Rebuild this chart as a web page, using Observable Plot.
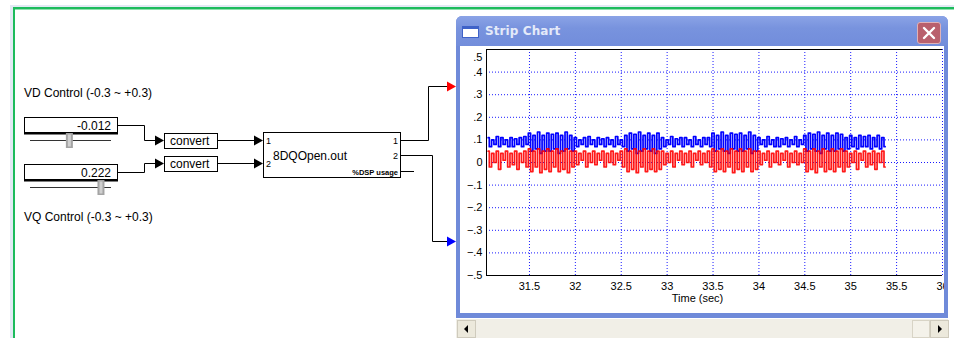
<!DOCTYPE html>
<html>
<head>
<meta charset="utf-8">
<script src="https://cdn.jsdelivr.net/npm/d3@7"></script>
<script src="https://cdn.jsdelivr.net/npm/@observablehq/plot@0.6"></script>
<style>
  html, body { margin: 0; padding: 0; background: #fff; width: 954px; height: 338px; overflow: hidden; }
  #stage { position: relative; width: 954px; height: 338px; font-family: "Liberation Sans", Arial, sans-serif; }
  #diagram { position: absolute; left: 0; top: 0; }
  #win { position: absolute; left: 456px; top: 16px; width: 492px; height: 302px; background: #6f8ad9; border-radius: 6px 6px 0 0; }
  #titlebar { position: absolute; left: 0; top: 0; width: 492px; height: 30px; border-radius: 6px 6px 0 0;
    background: linear-gradient(#8aa3e6, #7893de 40%, #728ddb); }
  #icon { position: absolute; left: 6px; top: 10px; width: 17px; height: 12px; background: #fff; border: 1px solid #3f62c8; border-top: 3px solid #3f62c8; box-sizing: border-box; }
  #title { position: absolute; left: 29px; top: 8px; font: bold 12px "DejaVu Sans", Verdana, sans-serif; color: #e4eaf9; letter-spacing: 0.1px; }
  #close { position: absolute; left: 461px; top: 6px; width: 24px; height: 22px; box-sizing: border-box; border: 1px solid #dfb2b8; border-radius: 3px; background: #b9606d; }
  #plotbox { position: absolute; left: 4px; top: 30px; width: 484px; height: 267px; background: #fff; overflow: hidden; }
  #plotbox svg { max-width: none !important; }
  #scroll { position: absolute; left: 456px; top: 319px; width: 492px; height: 19px; background: #f1efe7; }
  .sbtn { position: absolute; top: 1px; width: 19px; height: 18px; box-sizing: border-box; background: #ece9dc; border: 1px solid #cfcbbd; }
</style>
</head>
<body>
<div id="stage">
  <svg id="diagram" width="954" height="338"></svg>
  <div id="win">
    <div id="titlebar">
      <div id="icon"></div>
      <div id="title">Strip Chart</div>
      <div id="close">
        <svg width="22" height="20" style="position:absolute;left:0;top:0">
          <path d="M6,5 L16,15 M16,5 L6,15" stroke="#fff" stroke-width="2.4" stroke-linecap="round"/>
        </svg>
      </div>
    </div>
    <div id="plotbox"></div>
  </div>
  <div id="scroll">
    <div class="sbtn" style="left:1px"><svg width="17" height="16"><path d="M6,8 L10,4 L10,12 Z" fill="#000"/></svg></div>
    <div class="sbtn" style="left:456px;width:18px;border-color:#d8d4c6;background:#f4f2ea"></div>
    <div class="sbtn" style="left:474px"><svg width="17" height="16"><path d="M11,8 L7,4 L7,12 Z" fill="#000"/></svg></div>
  </div>
</div>
<script>
// ---------------- data ----------------
const controlLabels = ["VD Control (-0.3 ~ +0.3)", "VQ Control (-0.3 ~ +0.3)"];
const controlValues = [-0.012, 0.222];
const controlRange = [-0.3, 0.3];
const converterLabels = ["convert", "convert"];
const blockName = "8DQOpen.out";
const blockOutputs = ["1", "2", "%DSP usage"];
const seriesColors = ["#ff0000", "#0000ff"];

const timeDomain = [31.032, 36.0];
const xTicks = [31.5, 32, 32.5, 33, 33.5, 34, 34.5, 35, 35.5, 36];
const yTicks = [0.4, 0.3, 0.2, 0.1, 0, -0.1, -0.2, -0.3, -0.4, -0.5];
const yTopTick = [0.5];
const yGrid = [0.4, 0.3, 0.2, 0.1, 0, -0.1, -0.2, -0.3, -0.4];
const xLabel = "Time (sec)";

const startTime = 31.05, sampleStep = 0.025;

// output 2 (blue)
const blueSignal = [
  .11,.07,.10,.08,.115,.07,.11,.08,.10,.07,.11,.07,.105,.08,.11,.07,.115,.08,
  .13,.05,.12,.06,.135,.04,.12,.05,.13,.05,.125,.06,.13,.04,.12,.05,.135,.06,.12,.05,
  .11,.07,.10,.08,.11,.07,.115,.08,.10,.07,.11,.08,.105,.07,.11,.08,.10,.07,.115,.08,.10,.07,
  .12,.05,.13,.06,.125,.04,.135,.05,.12,.06,.13,.05,.12,.04,.13,.06,
  .11,.07,.10,.08,.115,.07,.105,.08,.11,.07,.11,.08,.10,.07,.115,.08,.10,.07,.11,.08,.11,.07,
  .13,.05,.12,.06,.135,.05,.12,.04,.13,.06,.125,.05,.13,.05,.12,.06,.135,.04,.12,.05,
  .11,.08,.10,.07,.115,.08,.10,.07,.11,.07,.105,.08,.11,.07,.10,.08,.115,.07,.10,.08,
  .12,.05,.13,.06,.125,.05,.135,.04,.12,.06,.13,.05,.12,.05,.13,.06,.125,.05,
  .11,.06,.12,.07,.11,.06,.12,.07,.115,.07,.12,.06,.11,.07,.12,.06,.11,.07
];
// output 1 (red)
const redSignal = [
  .05,-.02,.04,.00,.05,-.03,.04,.01,.05,-.02,.04,-.01,.05,-.03,.04,.00,.05,-.02,
  .06,-.04,.05,-.02,.06,-.045,.05,-.03,.06,-.04,.05,-.02,.06,-.04,.05,-.03,.06,-.045,.05,-.02,
  .05,-.01,.04,.01,.05,-.02,.04,.00,.05,-.01,.04,.01,.05,-.02,.04,.00,.05,-.01,.04,.01,.05,-.02,
  .06,-.04,.05,-.03,.06,-.045,.05,-.02,.06,-.04,.05,-.03,.06,-.04,.05,-.03,
  .05,-.01,.04,.00,.05,-.02,.04,.01,.05,-.01,.04,.00,.05,-.02,.04,.01,.05,-.01,.04,.00,.05,-.02,
  .06,-.04,.05,-.03,.06,-.04,.05,-.02,.06,-.045,.05,-.03,.06,-.04,.05,-.02,.06,-.04,.05,-.03,
  .05,-.01,.04,.01,.05,-.02,.04,.00,.05,-.01,.04,.01,.05,-.02,.04,.00,.05,-.01,.04,.00,
  .06,-.04,.05,-.03,.06,-.045,.05,-.02,.06,-.04,.05,-.03,.06,-.04,.05,-.02,.06,-.04,
  .05,-.02,.04,.00,.05,-.03,.04,.01,.05,-.02,.04,-.01,.05,-.03,.04,.00,.05,-.02
];

// ---------------- strip chart ----------------
const toRows = arr => arr.map((v, i) => ({t: startTime + i * sampleStep, v}));
const blueRows = toRows(blueSignal);
const redRows = toRows(redSignal);
const fmt = d => d === 0 ? "0" : d3.format(".1f")(d).replace("0.", ".");

const chart = Plot.plot({
  width: 500, height: 267,
  marginLeft: 26, marginRight: 18, marginTop: 3, marginBottom: 38,
  x: {domain: timeDomain},
  y: {domain: [-0.5, 0.5]},
  style: {fontFamily: "'Liberation Sans', Arial, sans-serif", fontSize: "11px", color: "#000", background: "#fff", overflow: "visible", maxWidth: "none"},
  marks: [
    Plot.gridY(yGrid, {stroke: "#0000ff", strokeOpacity: 0.9, strokeDasharray: "1,2"}),
    Plot.gridX(xTicks, {stroke: "#0000ff", strokeOpacity: 0.9, strokeDasharray: "1,2"}),
    Plot.lineY(blueRows, {x: "t", y: "v", stroke: seriesColors[1], strokeWidth: 1.7, curve: "step"}),
    Plot.lineY(redRows, {x: "t", y: "v", stroke: seriesColors[0], strokeWidth: 1.7, strokeOpacity: 0.9, curve: "step"}),
    Plot.ruleX([timeDomain[0]], {stroke: "#000"}),
    Plot.ruleY([-0.5, 0.5], {stroke: "#000"}),
    Plot.axisY(yTicks, {tickSize: 0, tickPadding: 4, tickFormat: fmt, label: null}),
    Plot.text(yTopTick, {y: d => d, frameAnchor: "left", textAnchor: "end", dx: -4, dy: 8, text: fmt}),
    Plot.axisX(xTicks, {tickSize: 0, tickPadding: 7, tickFormat: d => String(d), label: null}),
    Plot.text([xLabel], {frameAnchor: "bottom", dy: 26, dx: -17, text: d => d})
  ]
});
chart.style.maxWidth = "none";
document.getElementById("plotbox").appendChild(chart);

// ---------------- block diagram (layout only) ----------------
const svg = d3.select("#diagram");
const font = "'Liberation Sans', Arial, sans-serif";
svg.append("rect").attr("x", 10).attr("y", 5).attr("width", 944).attr("height", 333).attr("fill", "#e3e9f4");
svg.append("rect").attr("x", 13).attr("y", 7).attr("width", 941).attr("height", 331).attr("fill", "#1dbb5c");
svg.append("rect").attr("x", 15).attr("y", 9).attr("width", 939).attr("height", 329).attr("fill", "#fff");
svg.append("line").attr("x1", 15).attr("x2", 954).attr("y1", 9.5).attr("y2", 9.5).attr("stroke", "#8fe0ae");

const arrow = (x, y, color) => svg.append("path")
  .attr("d", `M${x - 9},${y - 5} L${x},${y} L${x - 9},${y + 5} Z`).attr("fill", color);
const wire = d => svg.append("path").attr("d", d).attr("fill", "none").attr("stroke", "#000").attr("stroke-width", 1);

const ctrl = [{boxY: 117, sliderY: 140.5, wireY: 125.5, convY: 140.5},
              {boxY: 164, sliderY: 187.5, wireY: 172.5, convY: 163.5}];
svg.append("text").attr("x", 24).attr("y", 97).attr("font-family", font).attr("font-size", 12).text(controlLabels[0]);
svg.append("text").attr("x", 24).attr("y", 221).attr("font-family", font).attr("font-size", 12).text(controlLabels[1]);

ctrl.forEach((c, i) => {
  svg.append("rect").attr("x", 24.5).attr("y", c.boxY + 0.5).attr("width", 93).attr("height", 15)
    .attr("fill", "#fff").attr("stroke", "#000");
  svg.append("line").attr("x1", 24).attr("x2", 118).attr("y1", c.boxY + 16.5).attr("y2", c.boxY + 16.5).attr("stroke", "#000").attr("stroke-width", 2);
  svg.append("text").attr("x", 111).attr("y", c.boxY + 12.5).attr("text-anchor", "end")
    .attr("font-family", font).attr("font-size", 12).text(String(controlValues[i]));
  svg.append("line").attr("x1", 30).attr("x2", 111).attr("y1", c.sliderY).attr("y2", c.sliderY).attr("stroke", "#333");
  const tx = 30 + (controlValues[i] - controlRange[0]) / (controlRange[1] - controlRange[0]) * 81;
  svg.append("rect").attr("x", tx - 3).attr("y", c.sliderY - 7.5).attr("width", 7).attr("height", 15).attr("fill", "#a4a4a4");
  svg.append("rect").attr("x", tx - 1).attr("y", c.sliderY - 6).attr("width", 3).attr("height", 12).attr("fill", "#d0d0d0");
  wire(`M118,${c.wireY} H144.5 V${c.convY} H156`);
  arrow(164, c.convY, "#000");
  svg.append("rect").attr("x", 164.5).attr("y", c.convY - 7).attr("width", 53).attr("height", 15).attr("fill", "#fff").attr("stroke", "#000");
  svg.append("text").attr("x", 170).attr("y", c.convY + 4.5).attr("font-family", font).attr("font-size", 12).text(converterLabels[i]);
  wire(`M217.5,${c.convY} H256`);
  arrow(263, c.convY, "#000");
});

svg.append("rect").attr("x", 263.5).attr("y", 132.5).attr("width", 137).attr("height", 45).attr("fill", "#fff").attr("stroke", "#000");
svg.append("text").attr("x", 266).attr("y", 144).attr("font-family", font).attr("font-size", 9).text("1");
svg.append("text").attr("x", 266).attr("y", 167).attr("font-family", font).attr("font-size", 9).text("2");
svg.append("text").attr("x", 273).attr("y", 160).attr("font-family", font).attr("font-size", 12).text(blockName);
svg.append("text").attr("x", 398).attr("y", 144).attr("text-anchor", "end").attr("font-family", font).attr("font-size", 9).text(blockOutputs[0]);
svg.append("text").attr("x", 398).attr("y", 159).attr("text-anchor", "end").attr("font-family", font).attr("font-size", 9).text(blockOutputs[1]);
svg.append("text").attr("x", 398).attr("y", 175).attr("text-anchor", "end").attr("font-family", font).attr("font-size", 7.5).attr("font-weight", "bold").text(blockOutputs[2]);
wire("M400.5,140.5 H428.5 V86.5 H448");
arrow(456, 86.5, seriesColors[0]);
wire("M400.5,155.5 H432.5 V241.5 H448");
arrow(456, 241.5, seriesColors[1]);
wire("M400.5,171.5 H414");
</script>
</body>
</html>
